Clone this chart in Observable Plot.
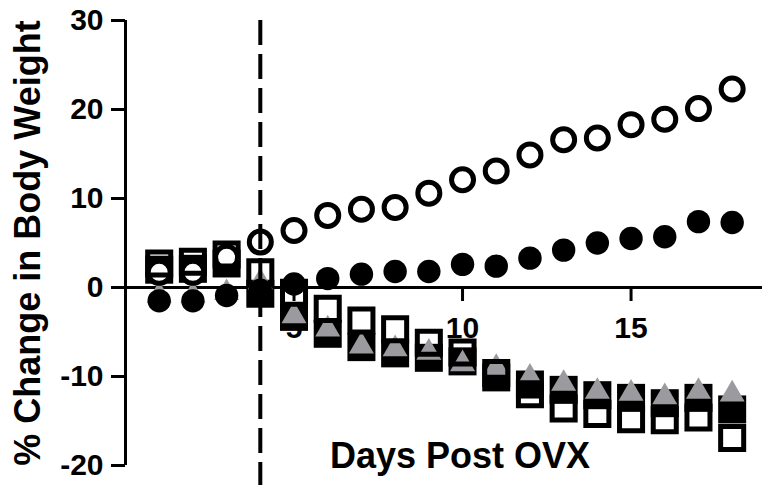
<!DOCTYPE html>
<html>
<head>
<meta charset="utf-8">
<script src="https://cdn.jsdelivr.net/npm/d3@7"></script>
<script src="https://cdn.jsdelivr.net/npm/@observablehq/plot@0.6"></script>
<style>
  html, body { margin: 0; padding: 0; background: #fff; }
  #chart { width: 762px; height: 485px; overflow: hidden; }
</style>
</head>
<body>
<div id="chart"></div>
<script>
// ---- data ----
const days = [1, 2, 3, 4, 5, 6, 7, 8, 9, 10, 11, 12, 13, 14, 15, 16, 17, 18];
const openCircle   = [1.7, 1.7, 3.4, 5.1, 6.4, 8.1, 8.8, 9.0, 10.6, 12.1, 13.1, 14.9, 16.6, 16.8, 18.3, 18.9, 20.1, 22.3];
const filledCircle = [-1.5, -1.5, -0.9, -0.3, 0.4, 1.0, 1.5, 1.8, 1.8, 2.6, 2.4, 3.3, 4.2, 5.0, 5.5, 5.7, 7.4, 7.3];
const openSquare   = [2.7, 2.9, 3.7, 1.7, -0.6, -2.4, -3.7, -4.7, -6.2, -7.3, -9.6, -12.0, -13.6, -14.2, -14.8, -14.9, -14.6, -16.9];
const filledSquare = [2.0, 2.1, 2.7, -0.7, -3.3, -5.2, -6.7, -7.4, -7.9, -8.3, -10.1, -10.9, -11.5, -12.1, -12.4, -13.0, -12.4, -13.7];
const triangle     = [-0.9, -0.9, -0.6, 0.6, -3.2, -4.7, -6.6, -6.9, -7.3, -8.6, -9.0, -10.1, -10.8, -11.7, -11.9, -12.3, -11.7, -12.0];
const yTicks = [-20, -10, 0, 10, 20, 30];
const xTicks = [5, 10, 15];
const ovxDay = 4;
const xLabel = "Days Post OVX";
const yLabel = "% Change in Body Weight";

// ---- layout ----
const width = 762, height = 485;
const marginLeft = 125, marginRight = 0, marginTop = 20, marginBottom = 20;
const xDomain = [0, 18.9];
const yDomain = [-20, 30];
const yPix = d3.scaleLinear(yDomain, [height - marginBottom, marginTop]);
const axisShift = yPix(0) - (height - marginBottom);

const rows = vals => days.map((d, i) => ({day: d, value: vals[i]}));
const font = "'Liberation Sans', Arial, Helvetica, sans-serif";

const chart = Plot.plot({
  width, height, marginLeft, marginRight, marginTop, marginBottom,
  style: {fontFamily: font, fontWeight: "bold", color: "#000", background: "#fff"},
  x: {domain: xDomain, axis: null},
  y: {domain: yDomain},
  marks: [
    Plot.ruleX([0], {stroke: "#000", strokeWidth: 3}),
    Plot.ruleY([0], {stroke: "#000", strokeWidth: 3}),
    Plot.axisY(yTicks, {
      tickSize: 14, tickPadding: 8, strokeWidth: 3, fontSize: 30, fontWeight: "bold",
      tickFormat: d => String(d), label: null
    }),
    Plot.axisX(xTicks, {
      anchor: "bottom", tickSize: 14, tickPadding: 15, strokeWidth: 3, fontSize: 30, fontWeight: "bold",
      tickFormat: d => String(d), label: null, dy: axisShift
    }),
    Plot.text([yLabel], {frameAnchor: "left", textAnchor: "middle", rotate: -90, dx: -97, fontSize: 36, fontWeight: "bold"}),
    Plot.text([xLabel], {frameAnchor: "bottom", textAnchor: "middle", lineAnchor: "bottom", dx: 16, dy: 2, fontSize: 36, fontWeight: "bold"}),
    Plot.dot(rows(filledSquare), {x: "day", y: "value", symbol: "square", r: 15.8, fill: "#000"}),
    Plot.dot(rows(triangle), {x: "day", y: "value", symbol: "triangle", r: 9.3, fill: "#9b9b9f"}),
    Plot.dot(rows(filledCircle), {x: "day", y: "value", symbol: "circle", r: 11.7, fill: "#000"}),
    Plot.dot(rows(openCircle), {x: "day", y: "value", symbol: "circle", r: 11, fill: "#fff", stroke: "#000", strokeWidth: 5}),
    Plot.dot(rows(openSquare), {x: "day", y: "value", symbol: "square", r: 13, fill: "none", stroke: "#000", strokeWidth: 5}),
    Plot.ruleX([ovxDay], {stroke: "#000", strokeWidth: 4, strokeDasharray: "25,9", insetBottom: -20})
  ]
});
document.getElementById("chart").appendChild(chart);
</script>
</body>
</html>
